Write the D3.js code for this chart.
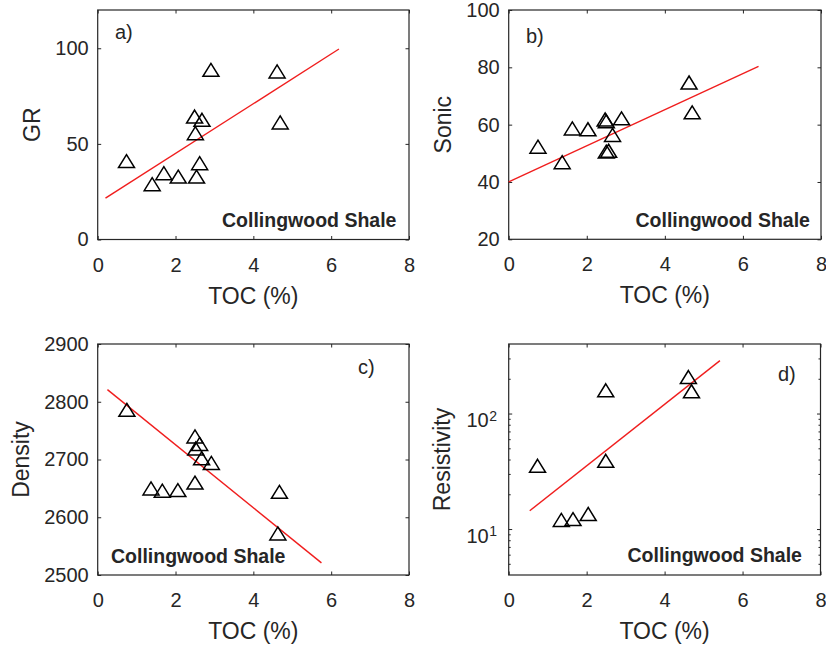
<!DOCTYPE html>
<html><head><meta charset="utf-8">
<script src="https://cdn.jsdelivr.net/npm/d3@7"></script>
<style>
body{margin:0;background:#fff}
svg{display:block}
text{font-family:"Liberation Sans",Arial,Helvetica,sans-serif;fill:#262626}
</style>
</head><body>
<svg id="chart" width="826" height="649"></svg>
<script>
// ---------- data ----------
const xLabel = "TOC (%)";
const formationLabel = "Collingwood Shale";
const xTicks = [0, 2, 4, 6, 8];

// a) GR
const tocGR = [0.74, 1.40, 1.70, 2.07, 2.54, 2.62, 2.51, 2.49, 2.68, 2.91, 4.61, 4.69];
const grValues = [41.0, 28.9, 34.7, 32.9, 32.9, 39.9, 55.6, 64.3, 62.6, 88.7, 87.9, 61.2];
const grFitX = [0.2, 6.2];
const grFitY = [21.6, 99.6];
const grTicks = [0, 50, 100];

// b) Sonic
const tocSonic = [0.75, 1.37, 1.63, 2.03, 2.47, 2.50, 2.66, 2.50, 2.56, 2.89, 4.62, 4.70];
const sonicValues = [52.3, 46.9, 58.7, 58.4, 61.8, 61.2, 56.4, 50.6, 50.9, 62.2, 74.7, 64.3];
const sonicFitX = [0, 6.4];
const sonicFitY = [40.0, 80.3];
const sonicTicks = [20, 40, 60, 80, 100];

// c) Density
const tocDensity = [0.75, 1.37, 1.66, 2.06, 2.50, 2.50, 2.62, 2.52, 2.67, 2.92, 4.67, 4.63];
const densityValues = [2786, 2650, 2646, 2647, 2660, 2740, 2727, 2719, 2702, 2694, 2644, 2572];
const densityFitX = [0.25, 5.75];
const densityFitY = [2821, 2521];
const densityTicks = [2500, 2600, 2700, 2800, 2900];

// d) Resistivity (log axis)
const tocRes = [0.74, 1.35, 1.65, 2.04, 2.49, 2.49, 4.61, 4.69];
const resValues = [35.3, 12.0, 12.2, 13.5, 159, 39, 207, 156];
const resFitX = [0.54, 5.42];
const resFitY = [14.4, 287];
const resMajorTicks = [10, 100];
const resMinorTicks = [5, 6, 7, 8, 9, 20, 30, 40, 50, 60, 70, 80, 90, 200, 300];

// ---------- layout ----------
const svg = d3.select("#chart");
svg.append("rect").attr("width", 826).attr("height", 649).attr("fill", "#fff");

const panels = [
  { box: {l: 97.7, r: 409, t: 10, b: 239.5}, xs: tocGR, ys: grValues, fx: grFitX, fy: grFitY,
    yDomain: [0, 120], yTicks: grTicks, yLabel: "GR", yLabelX: 39.5,
    tag: "a)", tagX: 115, tagY: 38.5, fmX: 222, fmY: 226.5 },
  { box: {l: 508.7, r: 821, t: 10, b: 239.3}, xs: tocSonic, ys: sonicValues, fx: sonicFitX, fy: sonicFitY,
    yDomain: [20, 100], yTicks: sonicTicks, yLabel: "Sonic", yLabelX: 450.5,
    tag: "b)", tagX: 526, tagY: 42.5, fmX: 635.5, fmY: 226.5 },
  { box: {l: 97.7, r: 409, t: 344, b: 575}, xs: tocDensity, ys: densityValues, fx: densityFitX, fy: densityFitY,
    yDomain: [2500, 2900], yTicks: densityTicks, yLabel: "Density", yLabelX: 28.5,
    tag: "c)", tagX: 358, tagY: 374, fmX: 111, fmY: 563 },
  { box: {l: 508.7, r: 820.5, t: 344, b: 575}, xs: tocRes, ys: resValues, fx: resFitX, fy: resFitY,
    yDomain: [4, 400], log: true, yLabel: "Resistivity", yLabelX: 449.5,
    tag: "d)", tagX: 778, tagY: 381, fmX: 627.5, fmY: 561.5 }
];

const tri = "M0,-6.5 L8,6.5 L-8,6.5 Z";
const fmt = d3.format("d");

panels.forEach(p => {
  const B = p.box;
  const x = d3.scaleLinear().domain([0, 8]).range([B.l, B.r]);
  const y = p.log ? d3.scaleLog().domain(p.yDomain).range([B.b, B.t])
                  : d3.scaleLinear().domain(p.yDomain).range([B.b, B.t]);
  const g = svg.append("g");
  const tick = 3.5;

  g.append("g").attr("transform", `translate(0,${B.b})`)
    .call(d3.axisBottom(x).tickValues(xTicks).tickFormat(fmt).tickSize(-tick).tickSizeOuter(0).tickPadding(18));
  g.append("g").attr("transform", `translate(0,${B.t})`)
    .call(d3.axisTop(x).tickValues(xTicks).tickSize(-tick).tickSizeOuter(0).tickFormat(""));
  if (!p.log) {
    g.append("g").attr("transform", `translate(${B.l},0)`)
      .call(d3.axisLeft(y).tickValues(p.yTicks).tickFormat(fmt).tickSize(-tick).tickSizeOuter(0).tickPadding(9));
    g.append("g").attr("transform", `translate(${B.r},0)`)
      .call(d3.axisRight(y).tickValues(p.yTicks).tickSize(-tick).tickSizeOuter(0).tickFormat(""));
  } else {
    g.append("g").attr("transform", `translate(${B.l},0)`)
      .call(d3.axisLeft(y).tickValues(resMajorTicks).tickSize(-tick).tickSizeOuter(0).tickFormat(""));
    g.append("g").attr("transform", `translate(${B.r},0)`)
      .call(d3.axisRight(y).tickValues(resMajorTicks).tickSize(-tick).tickSizeOuter(0).tickFormat(""));
    g.append("g").attr("transform", `translate(${B.l},0)`)
      .call(d3.axisLeft(y).tickValues(resMinorTicks).tickSize(-2).tickSizeOuter(0).tickFormat(""));
    g.append("g").attr("transform", `translate(${B.r},0)`)
      .call(d3.axisRight(y).tickValues(resMinorTicks).tickSize(-2).tickSizeOuter(0).tickFormat(""));
    resMajorTicks.forEach(v => {
      const e = Math.round(Math.log10(v));
      g.append("text").attr("x", B.l - 20).attr("y", y(v) + 13.5)
        .attr("text-anchor", "end").attr("font-size", 20).text("10");
      g.append("text").attr("x", B.l - 19.5).attr("y", y(v) + 7)
        .attr("text-anchor", "start").attr("font-size", 14).text(e);
    });
  }
  g.selectAll(".domain").remove();
  g.selectAll(".tick line").attr("stroke", "#262626").attr("stroke-width", 1);
  g.selectAll(".tick text").attr("font-size", 20).attr("fill", "#262626")
    .style("font-family", '"Liberation Sans",Arial,sans-serif');

  g.append("rect").attr("x", B.l).attr("y", B.t).attr("width", B.r - B.l).attr("height", B.b - B.t)
    .attr("fill", "none").attr("stroke", "#262626").attr("stroke-width", 1.2);

  const line = d3.line().x(d => x(d[0])).y(d => y(d[1]));
  g.append("path").datum(p.fx.map((v, i) => [v, p.fy[i]]))
    .attr("d", line).attr("fill", "none").attr("stroke", "#f01e1e").attr("stroke-width", 1.4);

  g.selectAll(".pt").data(p.xs.map((v, i) => [v, p.ys[i]])).join("path")
    .attr("class", "pt").attr("d", tri)
    .attr("transform", d => `translate(${x(d[0])},${y(d[1])})`)
    .attr("fill", "none").attr("stroke", "#000").attr("stroke-width", 1.5);

  g.append("text").attr("x", (B.l + B.r) / 2).attr("y", B.b + 64)
    .attr("text-anchor", "middle").attr("font-size", 23).text(xLabel);
  g.append("text").attr("transform", `translate(${p.yLabelX},${(B.t + B.b) / 2}) rotate(-90)`)
    .attr("text-anchor", "middle").attr("font-size", 23).text(p.yLabel);
  g.append("text").attr("x", p.tagX).attr("y", p.tagY).attr("font-size", 20).text(p.tag);
  g.append("text").attr("x", p.fmX).attr("y", p.fmY).attr("font-size", 19.5)
    .attr("font-weight", "bold").attr("fill", "#000").text(formationLabel);
});
</script>
</body></html>
